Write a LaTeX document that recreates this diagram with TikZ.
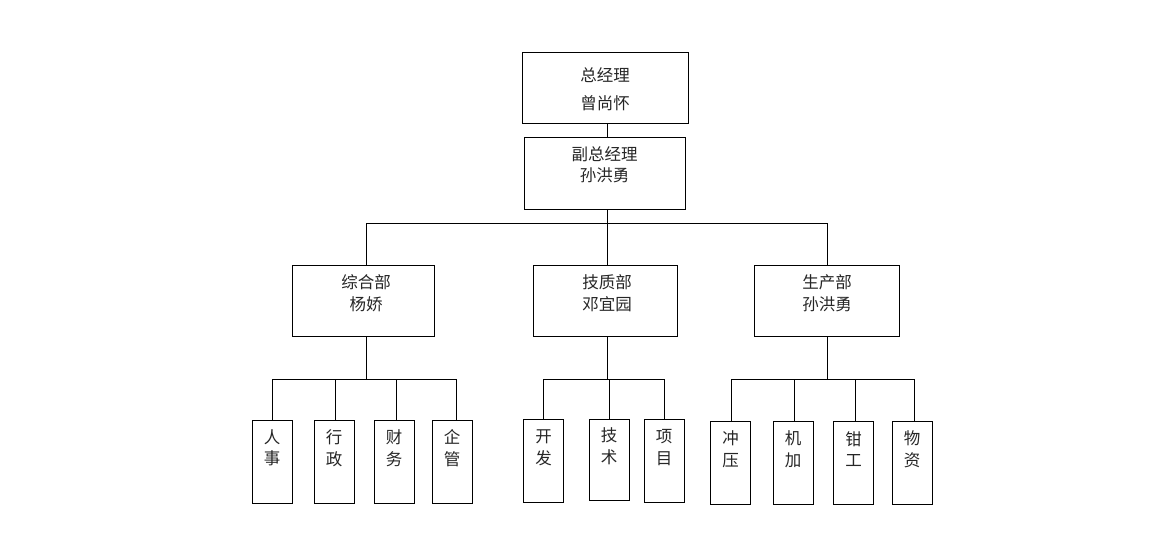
\documentclass[tikz,border=0pt]{standalone}
\usepackage{fontspec}
\usetikzlibrary{calc}
\newfontfamily\cjk{Noto Sans CJK SC}
\begin{document}
\begin{tikzpicture}[x=1pt,y=-1pt,
  box/.style={draw=black,line width=1pt,fill=white,inner sep=0pt,outer sep=0pt,anchor=center},
  lbl/.style={font=\cjk\fontsize{16.5}{21.5}\selectfont,align=center,inner sep=0pt,text=black!85},
  conn/.style={draw=black,line width=1pt}]
\useasboundingbox (0,0) rectangle (1149,535);
\fill[white] (0,0) rectangle (1149,535);
% top levels
\node[box,minimum width=166pt,minimum height=70pt] (gm) at (605,88) {};
\node[box,minimum width=161pt,minimum height=72pt] (vgm) at (604.5,173) {};
\node[lbl] (tgm) at (605,89) {总经理\\[6.5pt]曾尚怀};
\node[lbl] (tvgm) at (604.5,165) {副总经理\\孙洪勇};
% departments
\node[box,minimum width=142pt,minimum height=71pt] (d1) at (363,300.5) {};
\node[box,minimum width=144pt,minimum height=71pt] (d2) at (605,300.5) {};
\node[box,minimum width=145pt,minimum height=71pt] (d3) at (826.5,300.5) {};
\node[lbl] (td1) at (366,293) {综合部\\杨娇};
\node[lbl] (td2) at (607,293) {技质部\\邓宜园};
\node[lbl] (td3) at (827,293) {生产部\\孙洪勇};
% sub units
\tikzset{sub/.style={box,minimum width=40pt,minimum height=83pt}}
\node[sub] (s1) at (272,461.5) {};
\node[sub] (s2) at (334,461.5) {};
\node[sub] (s3) at (394,461.5) {};
\node[sub] (s4) at (452,461.5) {};
\node[sub] (s5) at (543.5,461) {};
\node[sub,minimum height=81pt] (s6) at (609,459.5) {};
\node[sub] (s7) at (664,461) {};
\node[sub] (s8) at (730.5,462.5) {};
\node[sub] (s9) at (793,462.5) {};
\node[sub] (s10) at (853.5,462.5) {};
\node[sub] (s11) at (912,462.5) {};
\node[lbl] (t1) at (272,448) {人\\事};
\node[lbl] (t2) at (334,448) {行\\政};
\node[lbl] (t3) at (394,448) {财\\务};
\node[lbl] (t4) at (452,448) {企\\管};
\node[lbl] (t5) at (543.5,448) {开\\发};
\node[lbl] (t6) at (609,446) {技\\术};
\node[lbl] (t7) at (664,447.5) {项\\目};
\node[lbl] (t8) at (730.5,449) {冲\\压};
\node[lbl] (t9) at (793,449) {机\\加};
\node[lbl] (t10) at (853.5,449) {钳\\工};
\node[lbl] (t11) at (912,449) {物\\资};
% buses
\coordinate (busA) at (0,223);
\coordinate (busB) at (0,379.5);
\coordinate (c0) at (607,0);
\coordinate (c1) at (366,0);
\coordinate (c2) at (607,0);
\coordinate (c3) at (827,0);
\draw[conn] (c0 |- gm.south) -- (c0 |- vgm.north);
\draw[conn] (c0 |- vgm.south) -- (c0 |- busA);
\draw[conn] (c1 |- d1.north) -- (c1 |- busA) -- (c3 |- busA) -- (c3 |- d3.north);
\draw[conn] (c2 |- d2.north) -- (c2 |- busA);
\draw[conn] (c1 |- d1.south) -- (c1 |- busB);
\draw[conn] (c2 |- d2.south) -- (c2 |- busB);
\draw[conn] (c3 |- d3.south) -- (c3 |- busB);
\draw[conn] (s1.north) -- (s1.north |- busB) -- ($(s4.north |- busB)+(4,0)$) -- ($(s4.north)+(4,0)$);
\draw[conn] ($(s2.north)+(1.5,0)$) -- ($(s2.north |- busB)+(1.5,0)$);
\draw[conn] ($(s3.north)+(2,0)$) -- ($(s3.north |- busB)+(2,0)$);
\draw[conn] (s5.north) -- (s5.north |- busB) -- (s7.north |- busB) -- (s7.north);
\draw[conn] (s6.north) -- (s6.north |- busB);
\draw[conn] ($(s8.north)+(1,0)$) -- ($(s8.north |- busB)+(1,0)$) -- ($(s11.north |- busB)+(2,0)$) -- ($(s11.north)+(2,0)$);
\draw[conn] ($(s9.north)+(1,0)$) -- ($(s9.north |- busB)+(1,0)$);
\draw[conn] ($(s10.north)+(2,0)$) -- ($(s10.north |- busB)+(2,0)$);
\end{tikzpicture}
\end{document}
